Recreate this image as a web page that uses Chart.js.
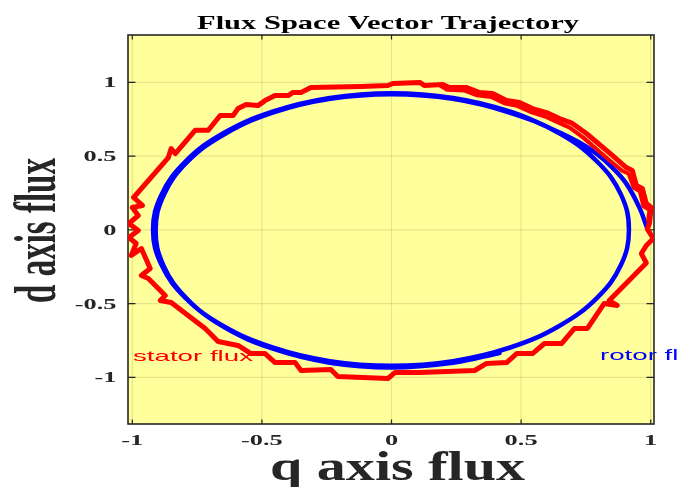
<!DOCTYPE html>
<html>
<head>
<meta charset="utf-8">
<script src="https://cdn.jsdelivr.net/npm/chart.js@4/dist/chart.umd.min.js"></script>
<style>
  html, body { margin: 0; padding: 0; background: #ffffff; }
  #wrap { width: 697px; height: 487px; position: relative; }
</style>
</head>
<body>
<div id="wrap"><canvas id="c" width="697" height="487"></canvas></div>
<script>
// ---- texts ----
const chartTitle = 'Flux Space Vector Trajectory';
const xAxisTitle = 'q axis flux';
const yAxisTitle = 'd axis flux';
const seriesNames = ['stator flux', 'rotor flux'];

// ---- ticks ----
const xTickValues = [-1, -0.5, 0, 0.5, 1];
const xTickLabels = ['-1', '-0.5', '0', '0.5', '1'];
const yTickValues = [-1, -0.5, 0, 0.5, 1];
const yTickLabels = ['-1', '-0.5', '0', '0.5', '1'];

// ---- stator flux trajectory [q, d] ----
const statorPath = [
  [0.995, 0.043], [1.002, 0.151], [0.983, 0.178], [0.968, 0.280], [0.945, 0.300],
  [0.929, 0.402], [0.906, 0.422], [0.852, 0.504], [0.752, 0.653], [0.698, 0.721],
  [0.648, 0.754], [0.598, 0.795], [0.544, 0.822], [0.494, 0.863], [0.444, 0.877],
  [0.390, 0.924], [0.340, 0.931], [0.290, 0.965], [0.224, 0.965], [0.198, 0.985],
  [0.128, 0.978], [0.109, 0.999], [0.005, 0.992], [-0.014, 0.978], [-0.117, 0.971],
  [-0.311, 0.964], [-0.349, 0.931], [-0.380, 0.931], [-0.399, 0.910], [-0.449, 0.910],
  [-0.488, 0.876], [-0.515, 0.842], [-0.561, 0.849], [-0.592, 0.822], [-0.611, 0.775],
  [-0.661, 0.775], [-0.707, 0.675], [-0.757, 0.675], [-0.834, 0.517], [-0.850, 0.551],
  [-0.861, 0.490], [-0.995, 0.219], [-0.961, 0.165], [-1.000, 0.151], [-0.977, 0.097],
  [-1.013, 0.043], [-0.977, -0.005], [-1.013, -0.052], [-0.985, -0.093], [-1.004, -0.174],
  [-0.965, -0.127], [-0.931, -0.262], [-0.965, -0.310], [-0.938, -0.330], [-0.873, -0.445],
  [-0.892, -0.479], [-0.850, -0.493], [-0.719, -0.669], [-0.669, -0.757], [-0.592, -0.784],
  [-0.542, -0.839], [-0.488, -0.839], [-0.449, -0.900], [-0.372, -0.900], [-0.349, -0.954],
  [-0.234, -0.947], [-0.207, -0.994], [-0.014, -1.008], [0.013, -0.968], [0.109, -0.968],
  [0.321, -0.954], [0.367, -0.906], [0.444, -0.900], [0.483, -0.839], [0.544, -0.839],
  [0.590, -0.771], [0.656, -0.771], [0.706, -0.669], [0.756, -0.669], [0.820, -0.500],
  [0.871, -0.513], [0.840, -0.480], [0.983, -0.225], [0.964, -0.161], [0.983, -0.106],
  [1.010, -0.059], [0.987, 0.005], [0.995, 0.043]
];
// second pass of the stator flux over the upper right quadrant
const statorRetrace = [
  [0.990, 0.060], [0.995, 0.135], [0.972, 0.160], [0.958, 0.262], [0.935, 0.285],
  [0.915, 0.380], [0.890, 0.400], [0.835, 0.480], [0.740, 0.625], [0.690, 0.690],
  [0.640, 0.730], [0.590, 0.770], [0.535, 0.800], [0.485, 0.840], [0.435, 0.858],
  [0.385, 0.900], [0.330, 0.912], [0.280, 0.945], [0.215, 0.950], [0.190, 0.975]
];

// ---- rotor flux trajectory [q, d] ----
const rotorPath = [
  // start-up arc on the right
  [0.987, 0.009], [0.956, 0.152], [0.906, 0.313], [0.852, 0.422], [0.790, 0.517],
  [0.725, 0.592], [0.649, 0.660],
  // first revolution
  [0.459, 0.801], [0.238, 0.894], [0.000, 0.926], [-0.238, 0.894], [-0.459, 0.801],
  [-0.649, 0.655], [-0.795, 0.463], [-0.887, 0.240], [-0.920, 0.000], [-0.887, -0.239],
  [-0.795, -0.461], [-0.649, -0.652], [-0.459, -0.798], [-0.238, -0.891], [0.000, -0.922],
  [0.237, -0.891], [0.458, -0.798], [0.647, -0.652], [0.793, -0.461], [0.885, -0.239],
  [0.916, 0.000], [0.885, 0.240], [0.793, 0.463], [0.647, 0.655],
  // second revolution
  [0.455, 0.795], [0.236, 0.888], [0.000, 0.919], [-0.236, 0.888], [-0.455, 0.796],
  [-0.643, 0.650], [-0.788, 0.460], [-0.878, 0.238], [-0.910, 0.000], [-0.880, -0.241],
  [-0.790, -0.466], [-0.646, -0.660], [-0.458, -0.806], [-0.238, -0.901], [0.000, -0.933],
  [0.237, -0.901], [0.417, -0.835]
];

const toXY = arr => arr.map(p => ({ x: p[0], y: p[1] }));

const SERIF = '"Liberation Serif", "Times New Roman", serif';
const SANS = '"Liberation Sans", Arial, sans-serif';

// draws text squeezed/stretched; if width is given, it is fitted to that width
function drawText(ctx, text, x, y, o) {
  ctx.save();
  ctx.font = o.font;
  let sx = o.sx || 1;
  if (o.width) sx = o.width / ctx.measureText(text).width;
  ctx.translate(x, y);
  if (o.rotate) ctx.rotate(o.rotate);
  ctx.scale(sx, o.sy || 1);
  ctx.fillStyle = o.color || '#000';
  ctx.textAlign = o.align || 'center';
  ctx.textBaseline = 'alphabetic';
  ctx.fillText(text, 0, 0);
  ctx.restore();
}

const axesPlugin = {
  id: 'matlabAxes',
  beforeDatasetsDraw(chart) {
    const { ctx, chartArea: a, scales: { x, y } } = chart;
    ctx.save();
    ctx.fillStyle = '#FFFF9C';
    ctx.fillRect(a.left, a.top, a.right - a.left, a.bottom - a.top);
    // grid
    ctx.strokeStyle = 'rgba(110,110,50,0.18)';
    ctx.lineWidth = 1.2;
    xTickValues.forEach(v => {
      const px = x.getPixelForValue(v);
      ctx.beginPath(); ctx.moveTo(px, a.top); ctx.lineTo(px, a.bottom); ctx.stroke();
    });
    yTickValues.forEach(v => {
      const py = y.getPixelForValue(v);
      ctx.beginPath(); ctx.moveTo(a.left, py); ctx.lineTo(a.right, py); ctx.stroke();
    });
    // box
    ctx.strokeStyle = '#262626';
    ctx.lineWidth = 1.6;
    ctx.strokeRect(a.left, a.top, a.right - a.left, a.bottom - a.top);
    // inward tick marks on all four sides
    ctx.lineWidth = 1.2;
    xTickValues.forEach(v => {
      const px = x.getPixelForValue(v);
      ctx.beginPath();
      ctx.moveTo(px, a.bottom); ctx.lineTo(px, a.bottom - 4.5);
      ctx.moveTo(px, a.top); ctx.lineTo(px, a.top + 4.5);
      ctx.stroke();
    });
    yTickValues.forEach(v => {
      const py = y.getPixelForValue(v);
      ctx.beginPath();
      ctx.moveTo(a.left, py); ctx.lineTo(a.left + 7.5, py);
      ctx.moveTo(a.right, py); ctx.lineTo(a.right - 7.5, py);
      ctx.stroke();
    });
    ctx.restore();
  },
  afterDraw(chart) {
    const { ctx, scales: { x, y } } = chart;
    // tick labels
    ctx.save();
    ctx.font = 'bold 15px ' + SERIF;
    const tickSx = 33 / ctx.measureText('0.5').width;
    ctx.restore();
    xTickValues.forEach((v, i) => {
      drawText(ctx, xTickLabels[i], x.getPixelForValue(v), 444.5,
        { font: 'bold 15px ' + SERIF, sx: tickSx, color: '#262626', align: 'center' });
    });
    yTickValues.forEach((v, i) => {
      drawText(ctx, yTickLabels[i], 116.5, y.getPixelForValue(v) + 5,
        { font: 'bold 15px ' + SERIF, sx: tickSx, color: '#262626', align: 'right' });
    });
    // title and axis titles
    drawText(ctx, chartTitle, 388, 29, { font: 'bold 19px ' + SERIF, width: 382, color: '#000' });
    drawText(ctx, xAxisTitle, 397.5, 480, { font: 'bold 42px ' + SERIF, width: 255, color: '#262626' });
    ctx.save();
    ctx.font = 'bold 42px ' + SERIF;
    const yLen = ctx.measureText(yAxisTitle).width;
    ctx.restore();
    drawText(ctx, yAxisTitle, 55, 230.5,
      { font: 'bold 42px ' + SERIF, rotate: -Math.PI / 2, sx: 145 / yLen, sy: 1.4, color: '#262626' });
    // series labels
    ctx.save();
    ctx.font = '15px ' + SANS;
    const lblSx = 120 / ctx.measureText(seriesNames[0]).width;
    ctx.restore();
    drawText(ctx, seriesNames[0], 133, 360.7, { font: '15px ' + SANS, sx: lblSx, color: '#FF0000', align: 'left' });
    ctx.save();
    ctx.beginPath(); ctx.rect(0, 0, 680, 487); ctx.clip();
    drawText(ctx, seriesNames[1], 600, 360, { font: '15px ' + SANS, sx: lblSx, color: '#0000FF', align: 'left' });
    ctx.restore();
  }
};

new Chart(document.getElementById('c'), {
  type: 'scatter',
  data: {
    datasets: [
      { label: seriesNames[0], data: toXY(statorPath), showLine: true, borderColor: '#FF0000',
        borderWidth: 5, pointRadius: 0, tension: 0, borderJoinStyle: 'round', borderCapStyle: 'round' },
      { label: seriesNames[0] + ' (2)', data: toXY(statorRetrace), showLine: true, borderColor: '#FF0000',
        borderWidth: 4, pointRadius: 0, tension: 0, borderJoinStyle: 'round', borderCapStyle: 'round' },
      { label: seriesNames[1], data: toXY(rotorPath), showLine: true, borderColor: '#0000FF',
        borderWidth: 4.5, pointRadius: 0, tension: 0.4, borderCapStyle: 'round' }
    ]
  },
  options: {
    responsive: false,
    animation: false,
    devicePixelRatio: 1,
    layout: { padding: { left: 128, top: 35, right: 43, bottom: 63 } },
    plugins: { legend: { display: false }, title: { display: false }, tooltip: { enabled: false } },
    scales: {
      x: { type: 'linear', display: false, min: -1.0166, max: 1.0127 },
      y: { type: 'linear', display: false, min: -1.3166, max: 1.3207 }
    }
  },
  plugins: [axesPlugin]
});
</script>
</body>
</html>
